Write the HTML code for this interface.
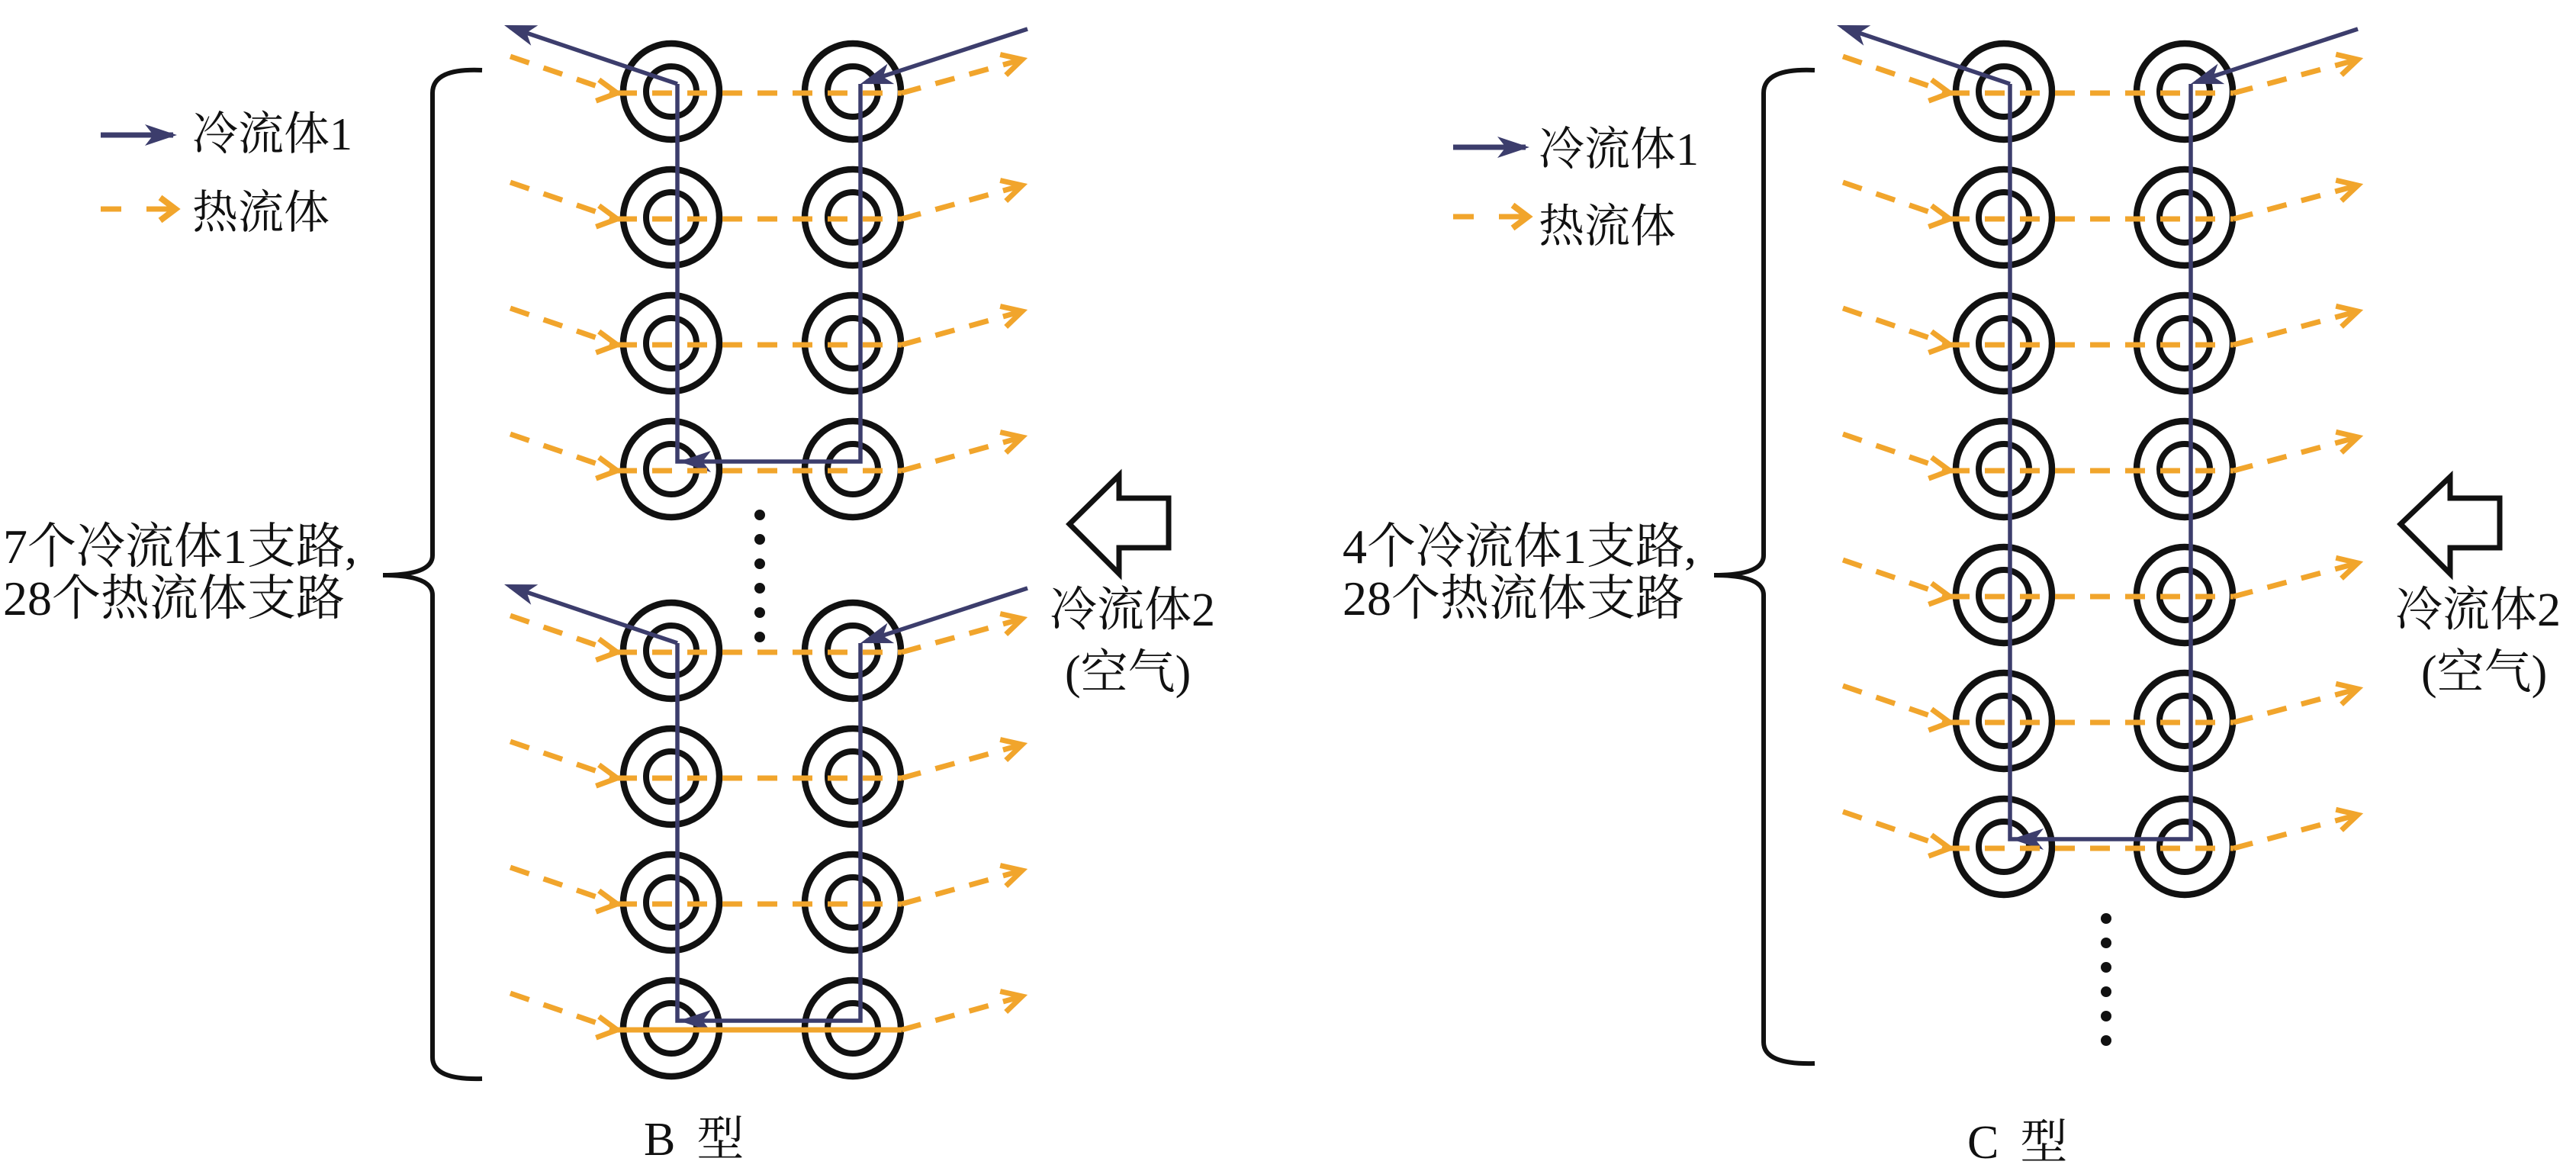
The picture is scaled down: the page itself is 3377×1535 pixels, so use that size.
<!DOCTYPE html>
<html><head><meta charset="utf-8">
<style>
html,body{margin:0;padding:0;background:#fff;}
svg{display:block;}
text{font-family:"Liberation Serif","Noto Serif CJK SC",serif;fill:#111;}
</style></head>
<body>
<svg id="s" width="3377" height="1535" viewBox="0 0 3377 1535" xmlns="http://www.w3.org/2000/svg">
<rect width="3377" height="1535" fill="#fff"/>
<g id="g"></g>
<path d="M632,92 Q567,89 567,122 L567,728 Q567,754 502,754 Q567,754 567,780 L567,1386 Q567,1416 632,1414" fill="none" stroke="#111" stroke-width="6"/>
<path d="M2379,92 Q2312,89 2312,122 L2312,728 Q2312,754 2247,754 Q2312,754 2312,780 L2312,1366 Q2312,1396 2379,1394" fill="none" stroke="#111" stroke-width="6"/>
<path d="M1402,687 L1467,623 L1467,653 L1532,653 L1532,718 L1467,718 L1467,752 Z" fill="#fff" stroke="#111" stroke-width="7"/>
<path d="M3147,687 L3212,625 L3212,653 L3277,653 L3277,718 L3212,718 L3212,752 Z" fill="#fff" stroke="#111" stroke-width="7"/>
<g font-family="'Liberation Serif','Noto Serif CJK SC','Noto Serif CJK',serif">
<text x="252" y="196" font-size="60">冷流体1</text>
<text x="252" y="299" font-size="60">热流体</text>
<text x="4" y="738" font-size="64">7个冷流体1支路,</text>
<text x="4" y="806" font-size="64">28个热流体支路</text>
<text x="1376" y="820" font-size="62">冷流体2</text>
<text x="1396" y="902" font-size="62">(空气)</text>
<text x="844" y="1514" font-size="62">B<tspan dx="28">型</tspan></text>

<text x="2017" y="216" font-size="60">冷流体1</text>
<text x="2017" y="317" font-size="60">热流体</text>
<text x="1760" y="738" font-size="64">4个冷流体1支路,</text>
<text x="1760" y="806" font-size="64">28个热流体支路</text>
<text x="3140" y="820" font-size="62">冷流体2</text>
<text x="3174" y="902" font-size="62">(空气)</text>
<text x="2579" y="1518" font-size="62">C<tspan dx="28">型</tspan></text>
</g>
</svg>
<script>
var NS="http://www.w3.org/2000/svg",g=document.getElementById("g");
var BLUE="#3c3d6c",OR="#f1a52c";
function el(t,a){var e=document.createElementNS(NS,t);for(var k in a)e.setAttribute(k,a[k]);g.appendChild(e);return e;}
function head(x,y,ang){el("path",{d:"M0,0 L-42,-14 L-31,0 L-42,14 Z",fill:BLUE,transform:"translate("+x+","+y+") rotate("+ang+")"});}
function chev(x,y,ang){el("polyline",{points:"-26,-14 0,0 -26,14",fill:"none",stroke:OR,"stroke-width":7,transform:"translate("+x+","+y+") rotate("+ang+")"});}
function deg(dx,dy){return Math.atan2(dy,dx)*180/Math.PI;}
function group(cx0,cx1,lx0,lx1,rows,bottomSolid,rdx){
  var top=rows[0],bot=rows[rows.length-1];
  rows.forEach(function(y){[cx0,cx1].forEach(function(x){
    el("circle",{cx:x,cy:y,r:63,fill:"none",stroke:"#111","stroke-width":8.5});
    el("circle",{cx:x,cy:y,r:33,fill:"none",stroke:"#111","stroke-width":8});});});
  el("polyline",{points:lx0+","+(top-10)+" "+lx0+","+(bot-10)+" "+lx1+","+(bot-10)+" "+lx1+","+(top-10),fill:"none",stroke:BLUE,"stroke-width":5.5});
  head(lx0+2,bot-10,180);
  var ax=lx0-227,ay=top-87;
  el("line",{x1:lx0,y1:top-10,x2:ax+8,y2:ay+3,stroke:BLUE,"stroke-width":5.5});
  head(ax,ay,deg(ax-lx0,ay-top+10));
  var bx=lx1+219,by=top-82;
  el("line",{x1:bx,y1:by,x2:lx1+8,y2:top-13,stroke:BLUE,"stroke-width":5.5});
  head(lx1,top-10,deg(lx1-bx,top-10-by));
  rows.forEach(function(y,i){
    var hy=y+2,sx=cx0-211,tx=cx0-71,ex=cx1+rdx,ey=hy-44;
    el("path",{d:"M"+sx+","+(hy-48)+" L"+tx+","+hy,fill:"none",stroke:OR,"stroke-width":7,"stroke-dasharray":"26 20"});
    chev(tx,hy,8);
    var solid=bottomSolid&&i==rows.length-1;
    el("path",{d:"M"+tx+","+hy+" L"+(cx1+64)+","+hy,fill:"none",stroke:OR,"stroke-width":7,"stroke-dasharray":solid?"none":"26 20"});
    el("path",{d:"M"+(cx1+64)+","+hy+" L"+ex+","+ey,fill:"none",stroke:OR,"stroke-width":7,"stroke-dasharray":"26 20"});
    chev(ex,ey,deg(ex-cx1-64,ey-hy));
  });
}
group(880,1118,888,1128,[120,285,450,615],false,222);
group(880,1118,888,1128,[853,1018,1183,1348],true,222);
group(2627,2864,2635,2872,[120,285,450,615,780,945,1110],false,227);
for(var i=0;i<6;i++){el("circle",{cx:996,cy:675+32*i,r:7,fill:"#111"});el("circle",{cx:2761,cy:1204+32*i,r:7,fill:"#111"});}
function legend(x,yb,yh){
  el("line",{x1:x,y1:yb,x2:x+95,y2:yb,stroke:BLUE,"stroke-width":7});
  head(x+100,yb,0);
  el("line",{x1:x,y1:yh,x2:x+27,y2:yh,stroke:OR,"stroke-width":7});
  el("line",{x1:x+60,y1:yh,x2:x+95,y2:yh,stroke:OR,"stroke-width":7});
  el("polyline",{points:(x+78)+","+(yh-15)+" "+(x+98)+","+yh+" "+(x+78)+","+(yh+15),fill:"none",stroke:OR,"stroke-width":8});
}
legend(132,177,274);
legend(1905,193,284);
</script>
</body></html>
